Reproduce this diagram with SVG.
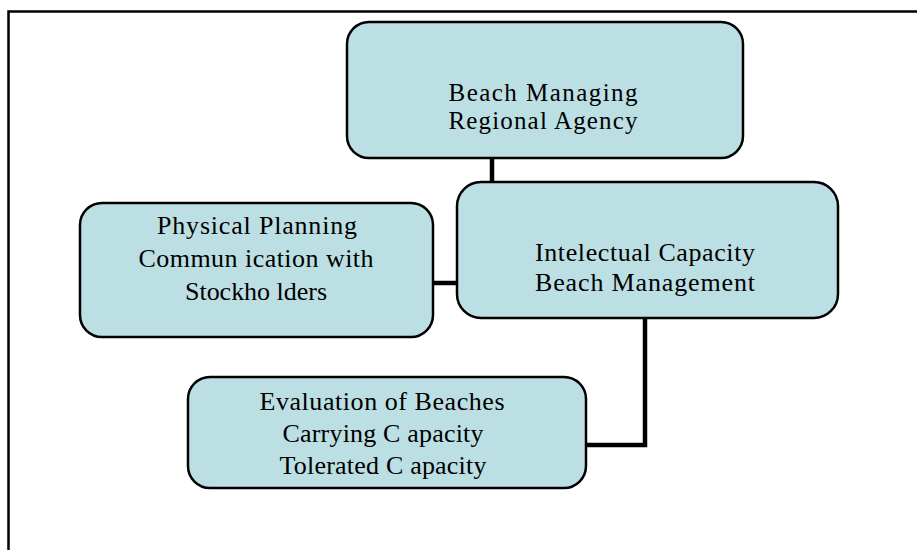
<svg xmlns="http://www.w3.org/2000/svg" width="917" height="550" viewBox="0 0 917 550">
<style>
.box{fill:#BCDFE3;stroke:#000;stroke-width:2.5}
.t{font-family:"Liberation Serif","Times New Roman",serif;fill:#000;text-anchor:middle}
.c{fill:none;stroke:#000;stroke-width:4.5;stroke-linecap:butt}
</style>
<rect width="917" height="550" fill="#fff"/>
<path d="M8.5 552 V11.5 H920" fill="none" stroke="#000" stroke-width="2.5"/>
<g id="connectors">
<line class="c" x1="492" y1="157" x2="492" y2="183"/>
<line class="c" x1="432" y1="283" x2="458" y2="283"/>
<polyline class="c" points="645,317 645,445 585,445"/>
</g>
<g id="node-agency">
<rect class="box" x="347" y="22" width="396" height="136" rx="22"/>
<text class="t" font-size="25" x="543" y="101" textLength="189" lengthAdjust="spacing">Beach Managing</text>
<text class="t" font-size="25" x="543" y="129" textLength="189" lengthAdjust="spacing">Regional Agency</text>
</g>
<g id="node-intellectual">
<rect class="box" x="457" y="182" width="381" height="136" rx="24"/>
<text class="t" font-size="26" x="645" y="261" textLength="220" lengthAdjust="spacing">Intelectual  Capacity</text>
<text class="t" font-size="26" x="645" y="291" textLength="220" lengthAdjust="spacing">Beach Management</text>
</g>
<g id="node-planning">
<rect class="box" x="80" y="203" width="353" height="134" rx="22"/>
<text class="t" font-size="26" x="257" y="234" textLength="200" lengthAdjust="spacing">Physical Planning</text>
<text class="t" font-size="26" x="256" y="267" textLength="235" lengthAdjust="spacing">Commun ication with</text>
<text class="t" font-size="26" x="256" y="300" textLength="142" lengthAdjust="spacing">Stockho lders</text>
</g>
<g id="node-evaluation">
<rect class="box" x="188" y="377" width="398" height="111" rx="22"/>
<text class="t" font-size="26" x="382" y="410" textLength="245" lengthAdjust="spacing">Evaluation of Beaches</text>
<text class="t" font-size="26" x="383" y="442" textLength="201" lengthAdjust="spacing">Carrying C apacity</text>
<text class="t" font-size="26" x="383" y="474" textLength="207" lengthAdjust="spacing">Tolerated C apacity</text>
</g>
</svg>
